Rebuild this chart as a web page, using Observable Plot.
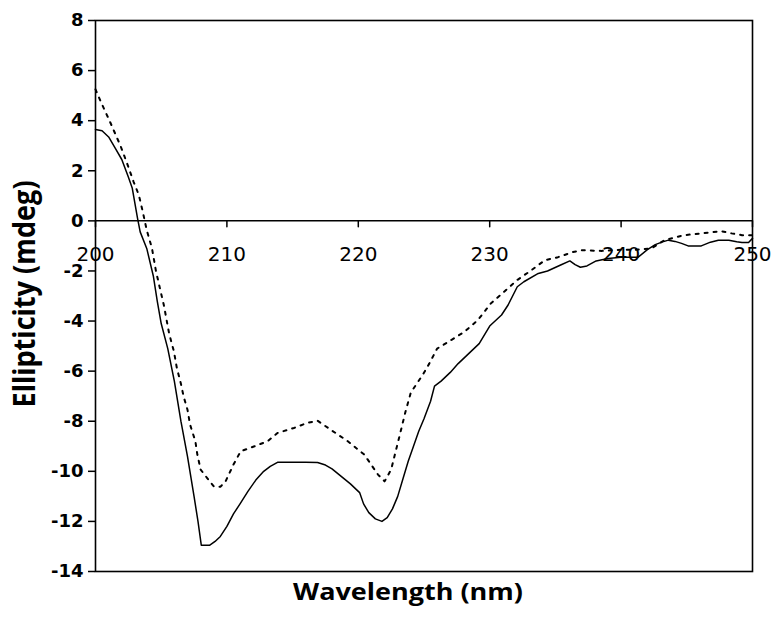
<!DOCTYPE html>
<html><head><meta charset="utf-8">
<script src="https://cdn.jsdelivr.net/npm/d3@7"></script>
<script src="https://cdn.jsdelivr.net/npm/@observablehq/plot@0.6"></script>
<style>body{margin:0;background:#fff}</style>
</head><body><div id="chart"></div>
<script>
const solidWavelength = [200, 200.5, 201, 201.5, 202, 202.5, 202.8, 203.2, 203.4, 203.9, 204.4, 204.7, 205.0, 205.5, 206.0, 206.5, 207.0, 207.5, 207.8, 208.05, 208.7, 209.1, 209.5, 210.0, 210.5, 211.0, 211.6, 212.2, 212.8, 213.3, 213.85, 215, 216, 216.9, 217.5, 218.0, 218.7, 219.4, 220.1, 220.4, 220.8, 221.3, 221.8, 222.2, 222.6, 223.0, 223.4, 223.8, 224.2, 224.6, 225.0, 225.5, 225.8, 226.3, 227.0, 227.6, 228.4, 229.2, 230.0, 230.9, 231.4, 232.1, 232.6, 233.7, 234.4, 235.4, 236.1, 236.5, 236.9, 237.4, 238.1, 239.0, 240.0, 241.3, 242.0, 242.6, 243.1, 243.6, 244.1, 244.6, 245.1, 246.1, 246.8, 247.4, 248.2, 248.8, 249.2, 249.7, 250];
const solidEllipticity = [3.65, 3.6, 3.35, 2.9, 2.45, 1.75, 1.3, 0.1, -0.44, -1.1, -2.2, -3.2, -4.1, -5.1, -6.4, -8.0, -9.4, -11.0, -12.0, -12.95, -12.95, -12.8, -12.6, -12.2, -11.7, -11.3, -10.8, -10.35, -10.0, -9.8, -9.64, -9.64, -9.64, -9.65, -9.75, -9.9, -10.2, -10.5, -10.85, -11.3, -11.65, -11.9, -12.0, -11.85, -11.5, -11.0, -10.3, -9.6, -9.0, -8.4, -7.9, -7.2, -6.6, -6.4, -6.05, -5.7, -5.3, -4.9, -4.2, -3.76, -3.36, -2.63, -2.43, -2.1, -2.0, -1.76, -1.6, -1.75, -1.85, -1.8, -1.6, -1.5, -1.45, -1.45, -1.15, -0.95, -0.85, -0.77, -0.82, -0.9, -1.0, -1.0, -0.85, -0.77, -0.77, -0.83, -0.86, -0.86, -0.7];

const dottedWavelength = [200, 200.4, 201.1, 201.9, 202.4, 202.9, 203.3, 203.6, 203.9, 204.3, 204.6, 204.95, 205.2, 205.6, 205.97, 206.2, 206.5, 206.7, 207.0, 207.2, 207.6, 207.75, 208.0, 208.5, 209.0, 209.5, 209.9, 210.5, 211.05, 212.1, 213.1, 213.85, 215.1, 216.1, 216.9, 217.9, 219.2, 220.45, 221.5, 222.0, 222.5, 223.1, 223.6, 224.0, 224.9, 225.4, 226.0, 227.1, 228.1, 229.1, 230.1, 231.1, 232.1, 233.2, 234.2, 235.2, 236.3, 237.0, 238.5, 240.0, 241.2, 242.3, 243.3, 244.8, 246.1, 247.6, 248.4, 249.2, 250];
const dottedEllipticity = [5.25, 4.76, 3.96, 3.0, 2.3, 1.56, 1.03, 0.36, -0.37, -1.1, -2.0, -2.8, -3.36, -4.49, -5.22, -5.9, -6.5, -7.0, -7.54, -8.14, -8.8, -9.33, -9.93, -10.27, -10.6, -10.62, -10.4, -9.73, -9.2, -9.0, -8.8, -8.47, -8.27, -8.07, -7.98, -8.34, -8.8, -9.33, -10.13, -10.4, -9.93, -8.67, -7.6, -6.85, -6.15, -5.7, -5.1, -4.75, -4.42, -3.96, -3.29, -2.83, -2.36, -1.96, -1.57, -1.45, -1.25, -1.17, -1.2, -1.15, -1.15, -1.1, -0.77, -0.57, -0.5, -0.41, -0.5, -0.57, -0.57];

const xTicks = [200, 210, 220, 230, 240, 250];
const yTicks = [-14, -12, -10, -8, -6, -4, -2, 0, 2, 4, 6, 8];
const xTitle = "Wavelength (nm)";
const yTitle = "Ellipticity (mdeg)";

const solid = solidWavelength.map((w, i) => ({w, v: solidEllipticity[i]}));
const dotted = dottedWavelength.map((w, i) => ({w, v: dottedEllipticity[i]}));

const tickShape = {draw(context, l) { context.moveTo(0, 0); context.lineTo(0, -l); }};

const chart = Plot.plot({
  width: 783,
  height: 624,
  marginLeft: 95,
  marginRight: 31,
  marginTop: 20,
  marginBottom: 53,
  style: {background: "#fff", color: "#000", overflow: "visible"},
  x: {domain: [200, 250], axis: null},
  y: {domain: [-14, 8], axis: null},
  marks: [
    Plot.frame({stroke: "#000", strokeWidth: 1.6}),
    Plot.ruleY([0], {stroke: "#000", strokeWidth: 1.5}),
    Plot.axisY(yTicks, {anchor: "left", tickSize: 7, tickPadding: 5, strokeWidth: 1.5, tickFormat: d => String(d), fontSize: 18, fontWeight: "bold", fontFamily: "DejaVu Sans", label: null}),
    Plot.vector(xTicks, {x: d => d, y: 0, length: 6, rotate: 180, anchor: "start", shape: tickShape, stroke: "#000", strokeWidth: 1.5}),
    Plot.text(xTicks, {x: d => d, y: 0, dy: 34, text: d => String(d), fontSize: 20, fontFamily: "DejaVu Sans", fill: "#000"}),
    Plot.line(solid, {x: "w", y: "v", stroke: "#000", strokeWidth: 1.5}),
    Plot.line(dotted, {x: "w", y: "v", stroke: "#000", strokeWidth: 2, strokeDasharray: "3,6"}),
    Plot.text([xTitle], {frameAnchor: "bottom", lineAnchor: "middle", textAnchor: "middle", dy: 21, dx: -16, text: d => d, fontSize: 22.5, fontWeight: "bold", fontFamily: "Open Sans", fill: "#000", ariaDescription: "x-title"}),
    Plot.text([yTitle], {frameAnchor: "left", lineAnchor: "middle", textAnchor: "middle", dx: -70, dy: -2, rotate: -90, text: d => d, fontSize: 24, fontWeight: "bold", fontFamily: "Open Sans", fill: "#000", ariaDescription: "y-title"})
  ]
});

const svg = d3.select(chart);
svg.selectAll('g[aria-description="x-title"] text').attr("transform", function() { return (this.getAttribute("transform") || "") + " scale(1.2,1)"; });
svg.selectAll('g[aria-description="y-title"] text').attr("transform", function() { return (this.getAttribute("transform") || "") + " scale(1.13,1.3)"; });

document.getElementById("chart").appendChild(chart);
</script>
</body></html>
